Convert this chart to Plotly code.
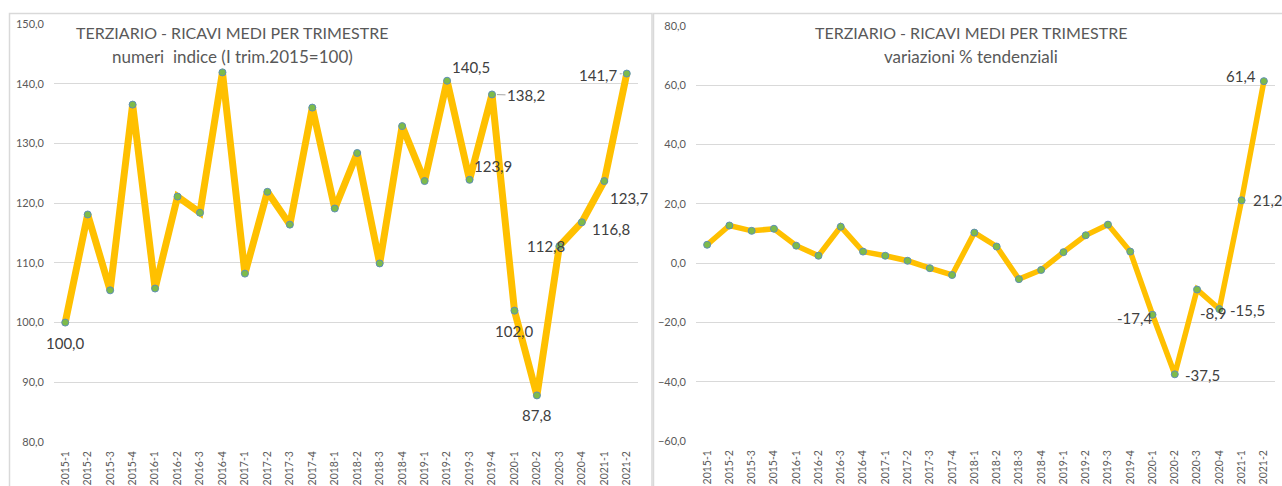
import plotly.graph_objects as go

W, H = 1282, 486

quarters = ["2015-1", "2015-2", "2015-3", "2015-4", "2016-1", "2016-2", "2016-3", "2016-4",
            "2017-1", "2017-2", "2017-3", "2017-4", "2018-1", "2018-2", "2018-3", "2018-4",
            "2019-1", "2019-2", "2019-3", "2019-4", "2020-1", "2020-2", "2020-3", "2020-4",
            "2021-1", "2021-2"]
index_values = [100.0, 118.1, 105.4, 136.5, 105.7, 121.1, 118.4, 141.9,
                108.2, 121.9, 116.4, 136.0, 119.1, 128.4, 109.9, 132.9,
                123.7, 140.5, 123.9, 138.2, 102.0, 87.8, 112.8, 116.8,
                123.7, 141.7]
yoy_values = [6.2, 12.7, 10.9, 11.6, 5.9, 2.5, 12.3, 3.9,
              2.5, 0.8, -1.7, -4.0, 10.3, 5.6, -5.4, -2.3,
              3.7, 9.4, 13.0, 3.9, -17.4, -37.5, -8.9, -15.5,
              21.2, 61.4]

title_main = "TERZIARIO - RICAVI MEDI PER TRIMESTRE"
subtitle_left = "numeri  indice (I trim.2015=100)"
subtitle_right = "variazioni % tendenziali"

# which points get a data label
left_labelled = ["2015-1", "2019-2", "2019-3", "2019-4", "2020-1", "2020-2",
                 "2020-3", "2020-4", "2021-1", "2021-2"]
right_labelled = ["2020-1", "2020-2", "2020-3", "2020-4", "2021-1", "2021-2"]

# label placement (pixel offsets) -- styling only
left_offsets = {
    "2015-1": (0, -20, None), "2019-2": (24, 14, None), "2019-3": (23, 14, None),
    "2019-4": (34, -1, "arrow"), "2020-1": (0, -20, None), "2020-2": (0, -20, None),
    "2020-3": (-13, 0, None), "2020-4": (29, -7, None), "2021-1": (25, -17, None),
    "2021-2": (-28, -1, "arrow"),
}
right_offsets = {
    "2020-1": (-18, -3, None), "2020-2": (28, -1, None), "2020-3": (16, -23, None),
    "2020-4": (28, -1, None), "2021-1": (26, 0, None), "2021-2": (-23, 5, None),
}

FONT = "Lato"
GRAY = "#595959"
LABEL = "#404040"


def px(x):
    return x / W


def py(y):
    return 1 - y / H


fig = go.Figure()

fig.add_trace(go.Scatter(
    x=quarters, y=index_values, mode="lines+markers", xaxis="x", yaxis="y",
    line=dict(color="#FFC000", width=7),
    marker=dict(size=7, color="#7DBB4A", line=dict(color="#5E8FB5", width=1)),
    showlegend=False, hoverinfo="x+y"))
fig.add_trace(go.Scatter(
    x=quarters, y=yoy_values, mode="lines+markers", xaxis="x2", yaxis="y2",
    line=dict(color="#FFC000", width=5.5),
    marker=dict(size=7, color="#7DBB4A", line=dict(color="#5E8FB5", width=1)),
    showlegend=False, hoverinfo="x+y"))


def fmt(v):
    return f"{v:.1f}".replace(".", ",")


annotations = []
for q in left_labelled:
    v = index_values[quarters.index(q)]
    dx, dy, kind = left_offsets[q]
    if kind == "arrow":
        annotations.append(dict(x=q, y=v, xref="x", yref="y", text=fmt(v), showarrow=True,
                                arrowhead=0, arrowwidth=1, arrowcolor="#A6A6A6",
                                ax=dx, ay=-dy, standoff=5,
                                font=dict(family=FONT, size=15, color=LABEL)))
    else:
        annotations.append(dict(x=q, y=v, xref="x", yref="y", text=fmt(v), showarrow=False,
                                xshift=dx, yshift=dy,
                                font=dict(family=FONT, size=15, color=LABEL)))
for q in right_labelled:
    v = yoy_values[quarters.index(q)]
    dx, dy, kind = right_offsets[q]
    annotations.append(dict(x=q, y=v, xref="x2", yref="y2", text=fmt(v), showarrow=False,
                            xshift=dx, yshift=dy,
                            font=dict(family=FONT, size=15, color=LABEL)))

# titles
for cx, t1, t2 in [(232, title_main, subtitle_left), (971, title_main, subtitle_right)]:
    annotations.append(dict(x=px(cx), y=py(33), xref="paper", yref="paper", text=t1,
                            showarrow=False, xanchor="center", yanchor="middle",
                            font=dict(family=FONT, size=16, color=GRAY)))
    annotations.append(dict(x=px(cx), y=py(57), xref="paper", yref="paper", text=t2,
                            showarrow=False, xanchor="center", yanchor="middle",
                            font=dict(family=FONT, size=17, color=GRAY)))

shapes = [
    dict(type="rect", xref="paper", yref="paper", x0=px(9.5), x1=px(652), y0=py(500), y1=py(13.5),
         line=dict(color="#D9D9D9", width=1.5), layer="below"),
    dict(type="rect", xref="paper", yref="paper", x0=px(653.5), x1=px(1300), y0=py(500), y1=py(13.5),
         line=dict(color="#D9D9D9", width=1.5), layer="below"),
]

xcommon = dict(type="category", range=[-0.5, 25.5], showgrid=False, zeroline=False,
               showline=False, ticks="", tickangle=-90, automargin=False,
               ticklabelstandoff=6,
               tickfont=dict(family=FONT, size=10.5, color=GRAY), fixedrange=True)
ycommon = dict(showgrid=True, gridcolor="#D9D9D9", gridwidth=1, zeroline=False,
               showline=False, ticks="", tickformat=".1f", automargin=False,
               ticklabelstandoff=9,
               tickfont=dict(family=FONT, size=11, color=GRAY), fixedrange=True)

fig.update_layout(
    width=W, height=H, template="none",
    margin=dict(l=0, r=0, t=0, b=0),
    paper_bgcolor="white", plot_bgcolor="rgba(0,0,0,0)",
    separators=",.",
    xaxis=dict(xcommon, domain=[px(54), px(638)], anchor="y"),
    yaxis=dict(ycommon, domain=[py(442), py(24)], range=[80, 150], dtick=10, anchor="x"),
    xaxis2=dict(xcommon, domain=[px(696), px(1275)], anchor="y2"),
    yaxis2=dict(ycommon, domain=[py(441), py(26)], range=[-60, 80], dtick=20, anchor="x2"),
    annotations=annotations, shapes=shapes,
)

fig.write_html("out.html", config={"displayModeBar": False},
               post_script="document.body.style.margin='0';document.body.style.overflow='hidden';")
